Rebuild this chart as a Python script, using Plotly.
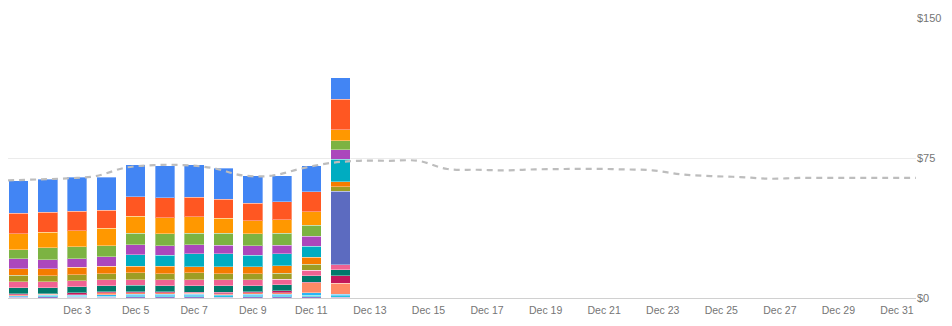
import plotly.graph_objects as go

# Daily cost, Dec 1 - Dec 12 (stacked by service, bottom to top)
days = [f"2023-12-{d:02d}" for d in range(1, 13)]

svc_lavender = [0.5, 0.6, 0.5, 0.4, 0.6, 0.6, 0.6, 0.5, 0.6, 0.6, 0.7, 0.5]
svc_cyan = [0.3, 0.6, 0.4, 0.5, 0.5, 0.6, 0.5, 0.6, 0.6, 0.6, 0.9, 0.6]
svc_light_blue = [0.5, 0.4, 0.6, 0.9, 0.9, 0.8, 0.8, 0.7, 0.8, 0.9, 1.1, 1.0]
svc_salmon = [0.4, 0.3, 0.3, 1.1, 0.9, 0.8, 0.7, 0.6, 0.7, 0.8, 5.4, 5.7]
svc_crimson = [0.6, 0.5, 1.1, 0.5, 0.5, 0.6, 0.6, 0.8, 0.7, 1.0, 0.3, 4.1]
svc_dark_teal = [3.2, 3.2, 3.2, 3.2, 3.4, 3.2, 3.4, 3.4, 3.2, 3.2, 3.4, 3.2]
svc_pink = [3.2, 3.2, 3.2, 3.2, 3.0, 3.2, 3.2, 3.2, 3.2, 3.0, 3.2, 2.7]
svc_indigo = [0, 0, 0, 0, 0, 0, 0, 0, 0, 0, 0, 39.5]
svc_olive = [3.6, 3.2, 3.2, 3.2, 3.7, 3.2, 3.6, 3.2, 3.2, 3.2, 3.2, 2.3]
svc_dark_orange = [3.4, 3.7, 3.9, 3.9, 3.4, 3.9, 3.4, 3.7, 3.7, 3.9, 3.7, 2.7]
svc_teal = [0, 0, 0, 0, 6.2, 6.1, 7.0, 7.0, 6.2, 6.4, 5.9, 12.1]
svc_purple = [5.2, 4.8, 4.6, 5.2, 5.4, 5.0, 4.6, 4.6, 5.0, 4.6, 5.4, 5.0]
svc_green = [5.0, 6.4, 6.4, 5.9, 6.1, 6.4, 6.4, 6.4, 6.4, 6.6, 5.9, 4.8]
svc_orange = [8.4, 8.4, 8.7, 9.3, 9.1, 8.6, 8.7, 8.0, 7.0, 7.0, 7.0, 5.9]
svc_red_orange = [11.2, 10.7, 10.5, 9.6, 10.5, 10.7, 10.5, 10.2, 9.5, 9.8, 10.7, 16.4]
svc_blue = [17.3, 17.7, 18.0, 17.7, 17.1, 17.1, 17.3, 16.6, 14.6, 13.8, 14.1, 11.6]

# Trend / forecast line, one point per day boundary across the month
trend_values = [63.0, 63.5, 64.1, 65.3, 69.8, 71.2, 71.2, 69.6, 65.7, 65.5, 69.3,
                72.3, 73.5, 73.5, 73.5, 69.1, 68.7, 68.4, 68.9, 69.1, 69.2, 68.9,
                68.4, 66.2, 65.3, 64.8, 63.9, 64.3, 64.3, 64.3, 64.3, 64.3]

tick_days = [f"2023-12-{d:02d}" for d in range(3, 32, 2)]
y_ticks = [0, 75, 150]
y_tick_labels = ["$0", "$75", "$150"]

stack = [
    ("Service P", svc_lavender, "#9575CD"),
    ("Service O", svc_cyan, "#26C6DA"),
    ("Service N", svc_light_blue, "#29B6F6"),
    ("Service M", svc_salmon, "#FF8A65"),
    ("Service L", svc_crimson, "#C2185B"),
    ("Service K", svc_dark_teal, "#00796B"),
    ("Service J", svc_pink, "#F06292"),
    ("Service I", svc_indigo, "#5C6BC0"),
    ("Service H", svc_olive, "#9E9D24"),
    ("Service G", svc_dark_orange, "#F57C00"),
    ("Service F", svc_teal, "#00ACC1"),
    ("Service E", svc_purple, "#AB47BC"),
    ("Service D", svc_green, "#7CB342"),
    ("Service C", svc_orange, "#FF9800"),
    ("Service B", svc_red_orange, "#FF5722"),
    ("Service A", svc_blue, "#4285F4"),
]

fig = go.Figure()
for name, vals, color in stack:
    fig.add_trace(go.Bar(
        x=days, y=vals, name=name,
        marker=dict(color=color, line=dict(color="rgba(255,255,255,0.35)", width=1)),
    ))

fig.add_trace(go.Scatter(
    x=list(range(len(trend_values))), y=trend_values, xaxis="x2",
    mode="lines", name="Trend",
    line=dict(color="#bdbdbd", width=2.2, dash="6px,5px", shape="spline"),
))

fig.update_layout(
    template="none",
    width=952, height=326,
    margin=dict(l=8, r=36, t=18, b=28),
    barmode="stack", bargap=0.33,
    showlegend=False,
    plot_bgcolor="white", paper_bgcolor="white",
    font=dict(family="Liberation Sans, Arial, sans-serif", color="#757575"),
    xaxis=dict(
        type="date",
        range=["2023-11-30 15:23", "2023-12-31 15:35"],
        tickvals=tick_days, tickformat="%b %-d",
        tickfont=dict(size=10.5, color="#757575"),
        showgrid=False, showline=False, zeroline=False,
        ticks="", ticklabelstandoff=4,
    ),
    xaxis2=dict(range=[0, 31], overlaying="x", visible=False),
    yaxis=dict(
        side="right", range=[0, 150],
        tickvals=y_ticks, ticktext=y_tick_labels,
        tickfont=dict(size=11, color="#757575"),
        showgrid=True, gridcolor="#ebebeb", gridwidth=1,
        zeroline=True, zerolinecolor="#d0d0d0", zerolinewidth=1,
        ticks="", showline=False,
    ),
)

fig.write_html("out.html")
